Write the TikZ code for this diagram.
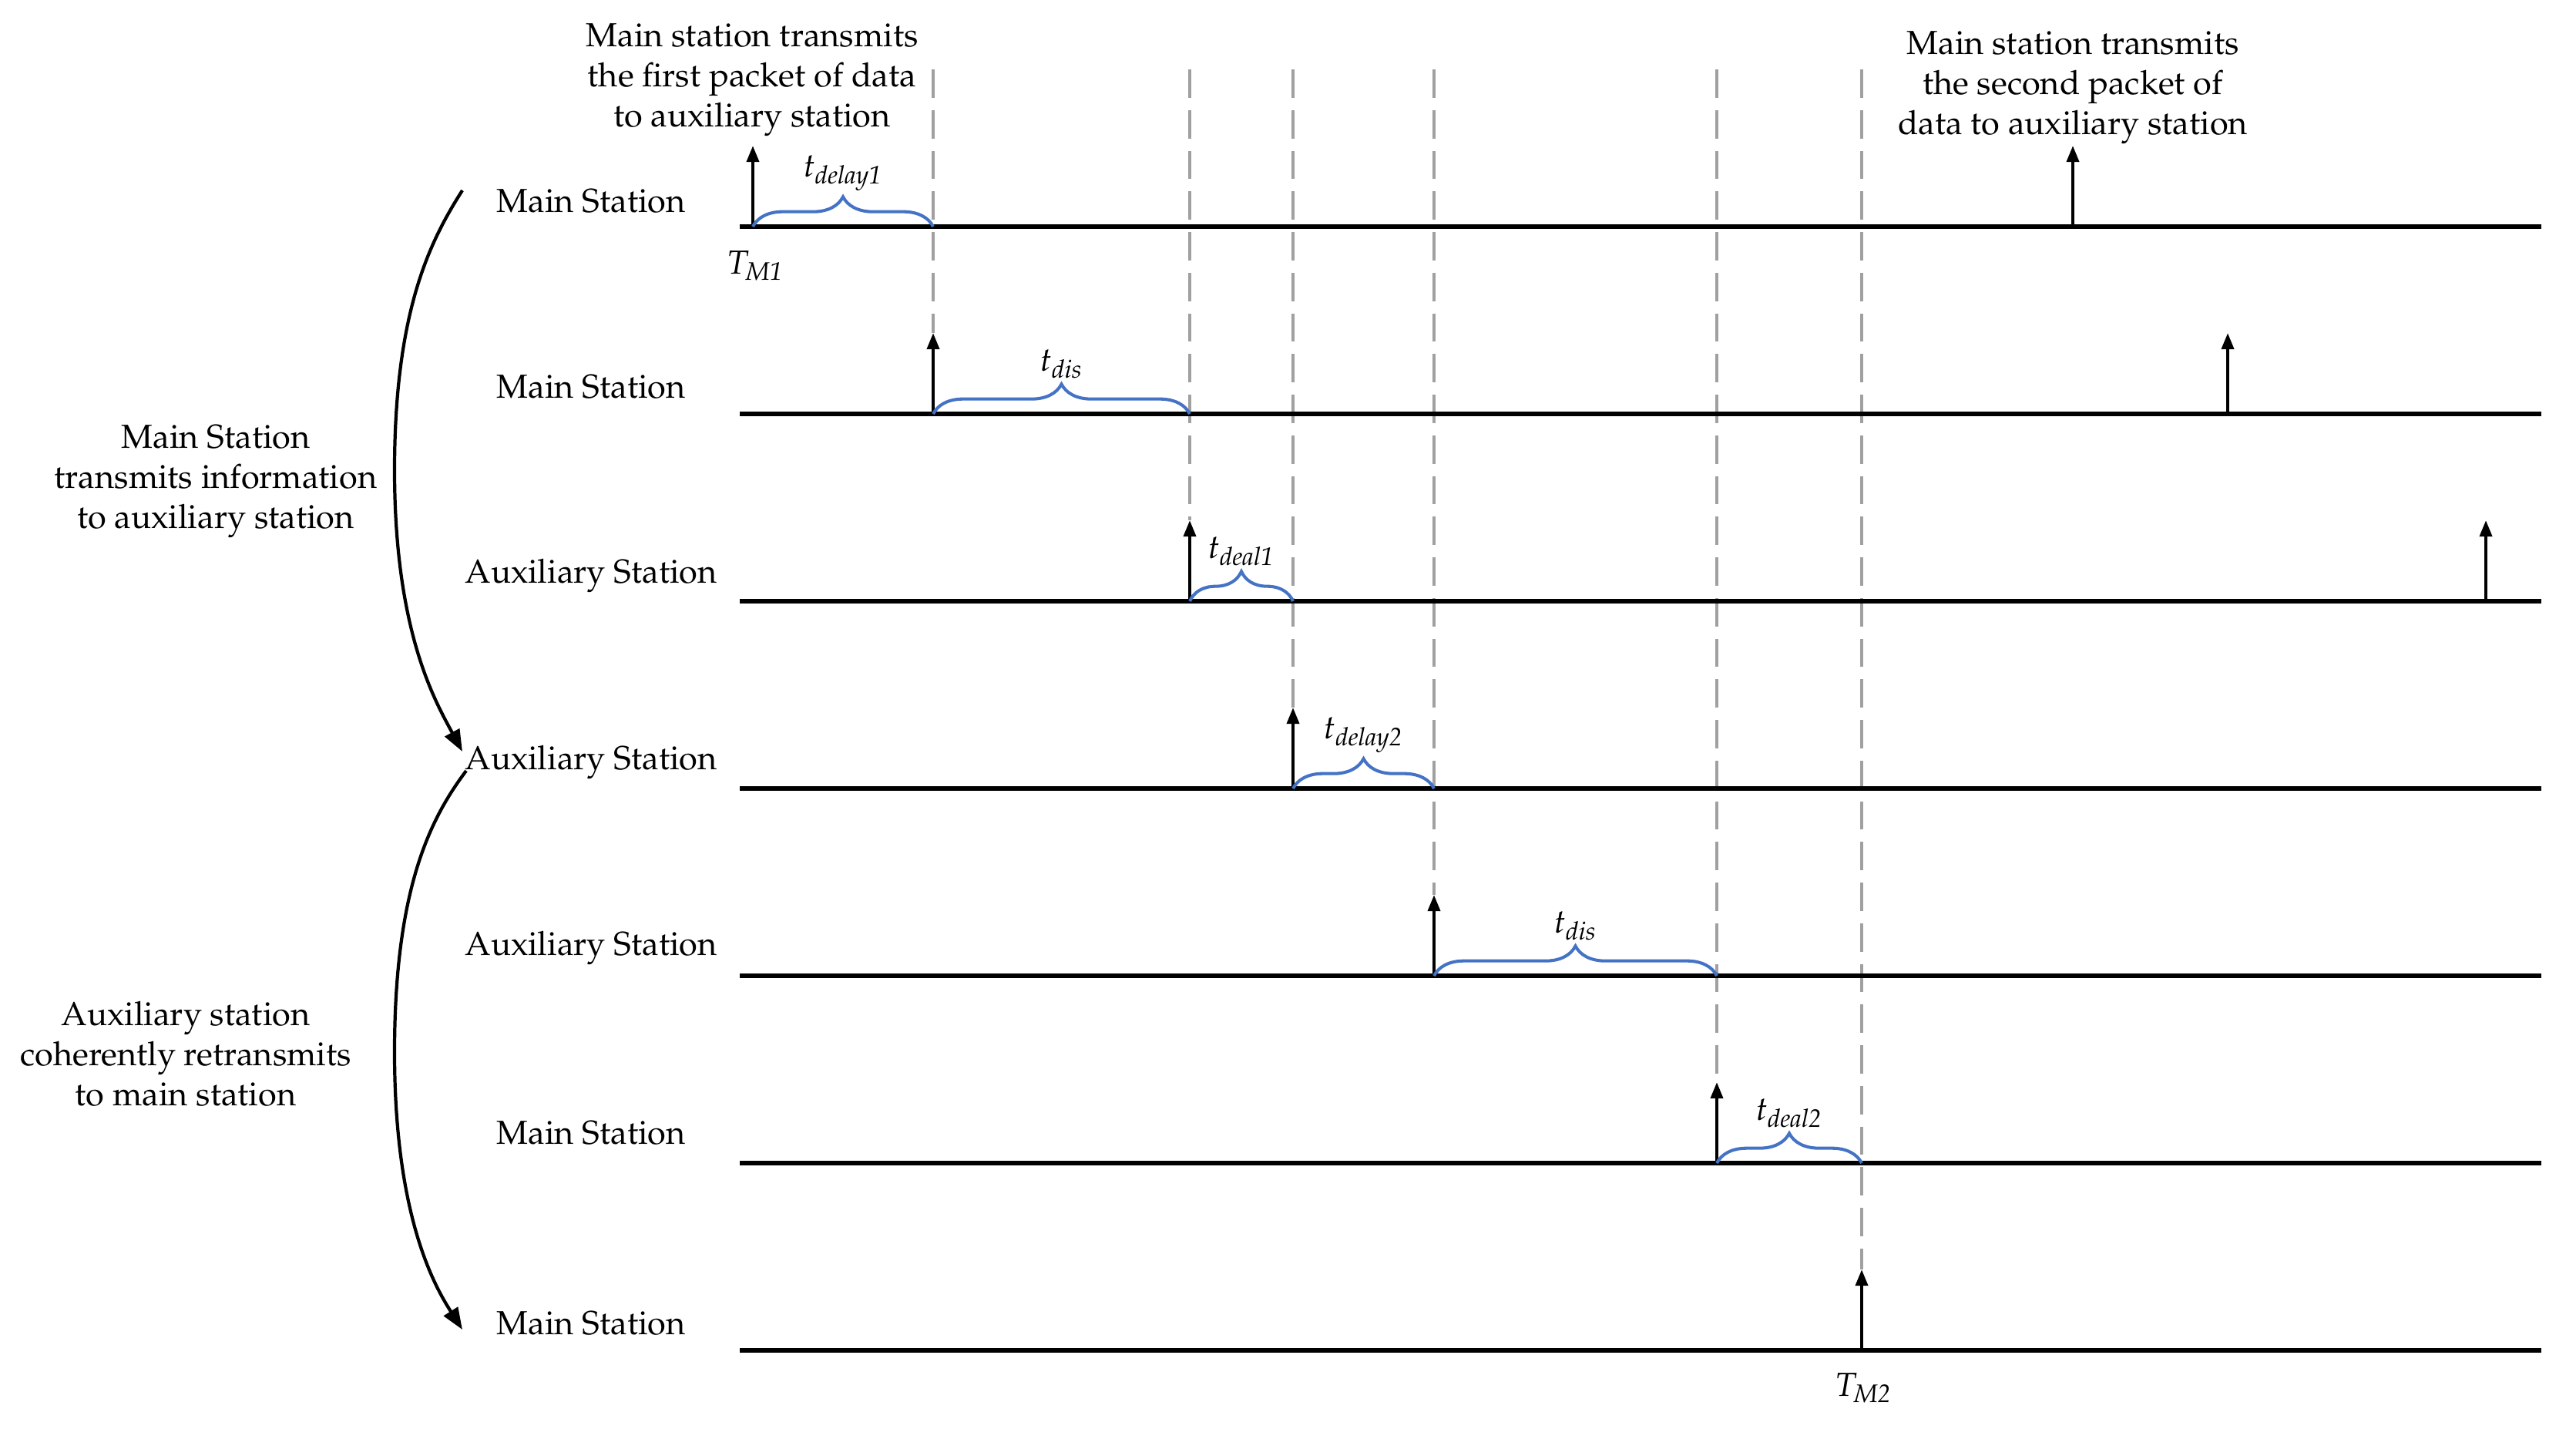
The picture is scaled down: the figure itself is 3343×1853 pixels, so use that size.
\documentclass[tikz,border=0pt]{standalone}
\usepackage[T1]{fontenc}
\usepackage{mathpazo}
\usetikzlibrary{arrows.meta,decorations.pathreplacing}
\definecolor{brblue}{HTML}{4472C4}
\definecolor{guidegray}{HTML}{A0A0A0}
\begin{document}
\begin{tikzpicture}[x=0.01cm,y=-0.01cm,
  every node/.style={font=\fontsize{12.3pt}{14.8pt}\selectfont, inner sep=0pt},
  axisline/.style={line width=1.6pt, black},
  pulse/.style={line width=1.2pt, black, -{Triangle[length=6pt,width=4.5pt]}},
  guide/.style={line width=1.2pt, draw=guidegray, dash pattern=on 10.5pt off 4.5pt},
  brc/.style={draw=brblue, line width=1.15pt, decorate, decoration={brace, amplitude=11pt}},
  brlbl/.style={anchor=south, font=\fontsize{12.3pt}{14pt}\selectfont},
  rowlbl/.style={anchor=center},
  block/.style={align=center, anchor=center},
  phasearrow/.style={line width=1.2pt, black, -{Triangle[length=8pt,width=6pt]}}
]
\useasboundingbox (0,0) rectangle (3343,1853);

% row lines
\coordinate (L1) at (960,294);  \coordinate (R1) at (3298,294);
\coordinate (L2) at (960,537);  \coordinate (R2) at (3298,537);
\coordinate (L3) at (960,780);  \coordinate (R3) at (3298,780);
\coordinate (L4) at (960,1023); \coordinate (R4) at (3298,1023);
\coordinate (L5) at (960,1266); \coordinate (R5) at (3298,1266);
\coordinate (L6) at (960,1509); \coordinate (R6) at (3298,1509);
\coordinate (L7) at (960,1752); \coordinate (R7) at (3298,1752);

% pulse bases and tips
\coordinate (a1) at (977,294);   \coordinate (a1t) at (977,189);
\coordinate (b1) at (2690,294);  \coordinate (b1t) at (2690,189);
\coordinate (a2) at (1211,537);  \coordinate (a2t) at (1211,432);
\coordinate (b2) at (2891,537);  \coordinate (b2t) at (2891,432);
\coordinate (a3) at (1544,780);  \coordinate (a3t) at (1544,675);
\coordinate (b3) at (3226,780);  \coordinate (b3t) at (3226,675);
\coordinate (a4) at (1678,1023); \coordinate (a4t) at (1678,918);
\coordinate (a5) at (1861,1266); \coordinate (a5t) at (1861,1161);
\coordinate (a6) at (2228,1509); \coordinate (a6t) at (2228,1404);
\coordinate (a7) at (2416,1752); \coordinate (a7t) at (2416,1647);

% brace ends
\coordinate (e1) at (1211,294);
\coordinate (e2) at (1544,537);
\coordinate (e3) at (1678,780);
\coordinate (e4) at (1861,1023);
\coordinate (e5) at (2228,1266);
\coordinate (e6) at (2416,1509);

% dashed guide tops
\coordinate (g2) at (1211,90);
\coordinate (g3) at (1544,90);
\coordinate (g4) at (1678,90);
\coordinate (g5) at (1861,90);
\coordinate (g6) at (2228,90);
\coordinate (g7) at (2416,90);

% dashed guides
\draw[guide] (g2) -- (a2t);
\draw[guide] (g3) -- (a3t);
\draw[guide] (g4) -- (a4t);
\draw[guide] (g5) -- (a5t);
\draw[guide] (g6) -- (a6t);
\draw[guide] (g7) -- (a7t);

% axis lines
\foreach \i in {1,...,7} { \draw[axisline] (L\i) -- (R\i); }

% pulses
\foreach \p in {a1,b1,a2,b2,a3,b3,a4,a5,a6,a7} { \draw[pulse] (\p) -- (\p t); }

% braces
\draw[brc] (a1) -- (e1) node[brlbl, midway, yshift=12.5pt] (l1) {$t_{\mathit{delay1}}$};
\draw[brc] (a2) -- (e2) node[brlbl, midway, yshift=12.5pt] (l2) {$t_{\mathit{dis}}$};
\draw[brc] (a3) -- (e3) node[brlbl, midway, yshift=12.5pt] (l3) {$t_{\mathit{deal1}}$};
\draw[brc] (a4) -- (e4) node[brlbl, midway, yshift=12.5pt] (l4) {$t_{\mathit{delay2}}$};
\draw[brc] (a5) -- (e5) node[brlbl, midway, yshift=12.5pt] (l5) {$t_{\mathit{dis}}$};
\draw[brc] (a6) -- (e6) node[brlbl, midway, yshift=12.5pt] (l6) {$t_{\mathit{deal2}}$};

% time marks
\node (tm1) at (980,345) {$T_{\mathit{M1}}$};
\node (tm2) at (2418,1801) {$T_{\mathit{M2}}$};

% row labels
\node[rowlbl] (s1) at (767,261) {Main Station};
\node[rowlbl] (s2) at (767,502) {Main Station};
\node[rowlbl] (s3) at (767,747) {Auxiliary Station};
\node[rowlbl] (s4) at (767,989) {Auxiliary Station};
\node[rowlbl] (s5) at (767,1230) {Auxiliary Station};
\node[rowlbl] (s6) at (767,1470) {Main Station};
\node[rowlbl] (s7) at (767,1717) {Main Station};

% text blocks
\node[block] (tx1) at (976,104) {Main station transmits\\the first packet of data\\to auxiliary station};
\node[block] (tx2) at (2690,114) {Main station transmits\\the second packet of\\data to auxiliary station};
\node[block] (tx3) at (280,625) {Main Station\\transmits information\\to auxiliary station};
\node[block] (tx4) at (241,1367) {Auxiliary station\\coherently retransmits\\to main station};

% curved phase arrows
\coordinate (c1s) at (600,247);
\coordinate (c1m) at (512,610);
\coordinate (c1e) at (600,975);
\coordinate (c2s) at (605,1000);
\coordinate (c2m) at (512,1365);
\coordinate (c2e) at (600,1725);
\draw[phasearrow] (c1s) .. controls (560,310) and (512,400) .. (c1m)
            .. controls (512,820) and (565,910) .. (c1e);
\draw[phasearrow] (c2s) .. controls (560,1060) and (512,1150) .. (c2m)
            .. controls (512,1580) and (565,1670) .. (c2e);
\end{tikzpicture}
\end{document}
